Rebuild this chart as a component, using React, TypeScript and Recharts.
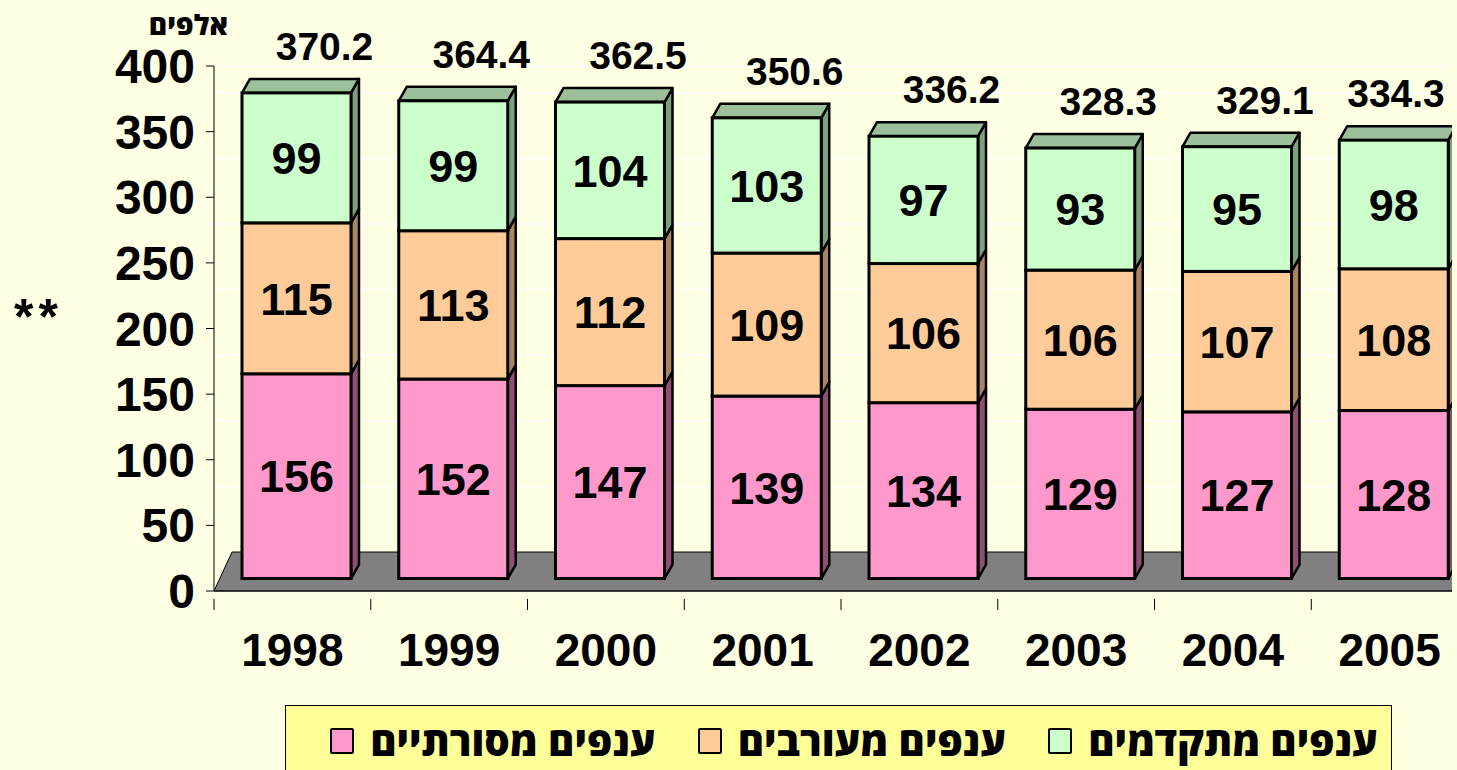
import React from "react";
import {
  BarChart,
  Bar,
  XAxis,
  YAxis,
  CartesianGrid,
  LabelList,
  ReferenceArea,
} from "recharts";

// values in thousands
const years = ["1998", "1999", "2000", "2001", "2002", "2003", "2004", "2005"];
const traditional = [156, 152, 147, 139, 134, 129, 127, 128];
const mixed = [115, 113, 112, 109, 106, 106, 107, 108];
const advanced = [99, 99, 104, 103, 97, 93, 95, 98];
const totals = [370.2, 364.4, 362.5, 350.6, 336.2, 328.3, 329.1, 334.3];
const yTicks = [0, 50, 100, 150, 200, 250, 300, 350, 400];
const seriesNames = ["ענפים מסורתיים", "ענפים מעורבים", "ענפים מתקדמים"];
const unitLabel = "אלפים";

const FONT = "'Liberation Sans', Arial, sans-serif";
const HEB_FONT = "'Open Sans', 'DejaVu Sans', sans-serif";
const BG = "#FFFFE3";
const PLOT_LEFT = 214;
const BAND = 156.7;
const CLIP_RIGHT = 1452;
const DX = 8;
const DY = -14;
const SHIFT = 4;

const colors = [
  { front: "#FF99CC", side: "#8E4F70", top: "#CC7AA3" },
  { front: "#FFCC99", side: "#A88462", top: "#D9AD82" },
  { front: "#CCFFCC", side: "#7DA07D", top: "#9BC09B" },
];

const data = years.map((year, i) => ({
  year,
  traditional: traditional[i],
  mixed: mixed[i],
  advanced: advanced[i],
  total: totals[i],
}));

const makeShape = (c: { front: string; side: string; top: string }, withTop: boolean) =>
  (p: any) => {
    const x = p.x + SHIFT;
    const y = p.y;
    const w = p.width;
    const h = p.height;
    return (
      <g>
        <polygon
          points={`${x + w},${y} ${x + w + DX},${y + DY} ${x + w + DX},${y + h + DY} ${x + w},${y + h}`}
          fill={c.side}
          stroke="#000"
          strokeWidth={2.5}
          strokeLinejoin="round"
        />
        {withTop && (
          <polygon
            points={`${x},${y} ${x + DX},${y + DY} ${x + w + DX},${y + DY} ${x + w},${y}`}
            fill={c.top}
            stroke="#000"
            strokeWidth={2.5}
            strokeLinejoin="round"
          />
        )}
        <rect x={x} y={y} width={w} height={h} fill={c.front} stroke="#000" strokeWidth={3} />
      </g>
    );
  };

const InnerLabel = (p: any) => (
  <text
    x={p.x + p.width / 2 + SHIFT}
    y={p.y + p.height / 2}
    dy="0.36em"
    textAnchor="middle"
    fontSize={45}
    fontWeight="bold"
    fontFamily={FONT}
    fill="#000"
  >
    {p.value}
  </text>
);

const TotalLabel = (p: any) => {
  // keep the last label inside the visible area
  const cx = Math.min(p.x + p.width / 2 + SHIFT + 28, CLIP_RIGHT - 56);
  return (
    <text
      x={cx}
      y={p.y - 47}
      dy="0.36em"
      textAnchor="middle"
      fontSize={39}
      fontWeight="bold"
      fontFamily={FONT}
      fill="#000"
    >
      {Number(p.value).toFixed(1)}
    </text>
  );
};

const YearTick = (p: any) => {
  const { x, y, payload } = p;
  return (
    <g>
      <line x1={x - BAND / 2} y1={y} x2={x - BAND / 2} y2={y + 11} stroke="#000" />
      <text
        x={x}
        y={y + 67}
        textAnchor="middle"
        fontSize={46}
        fontWeight="bold"
        fontFamily={FONT}
        fill="#000"
      >
        {payload.value}
      </text>
    </g>
  );
};

const Floor = (p: any) => {
  const { x, y, width, height } = p;
  const d = 18;
  return (
    <polygon
      points={`${x},${y + height} ${x + width},${y + height} ${x + width + d},${y} ${x + d},${y}`}
      fill="#808080"
      stroke="#000"
      strokeWidth={1}
    />
  );
};

function Legend3() {
  const order = [2, 1, 0];
  return (
    <div
      style={{
        position: "absolute",
        left: 285,
        top: 705,
        width: 1107,
        height: 80,
        background: "#FFFF99",
        border: "1.5px solid #000",
        boxSizing: "border-box",
        display: "flex",
        direction: "rtl",
        alignItems: "flex-start",
        paddingRight: 13,
        paddingTop: 12,
        gap: 42,
        fontFamily: HEB_FONT,
        fontWeight: 800,
        fontSize: 40,
        color: "#000",
      }}
    >
      {order.map((i) => (
        <div key={i} style={{ display: "flex", alignItems: "center", gap: 16, lineHeight: "46px" }}>
          <span>{seriesNames[i]}</span>
          <span
            style={{
              display: "inline-block",
              width: 24,
              height: 26,
              boxSizing: "border-box",
              background: colors[i].front,
              border: "2.5px solid #000",
              borderRadius: 2,
            }}
          />
        </div>
      ))}
    </div>
  );
}

export default function App() {
  return (
    <div
      style={{
        position: "absolute",
        left: 0,
        top: 0,
        width: 1457,
        height: 770,
        overflow: "hidden",
        background: BG,
      }}
    >
      <div style={{ position: "absolute", left: 0, top: 0, width: CLIP_RIGHT, height: 770, overflow: "hidden" }}>
        <BarChart
          width={PLOT_LEFT + Math.round(BAND * years.length)}
          height={700}
          data={data}
          margin={{ top: 66, right: 0, left: 0, bottom: 0 }}
          barSize={109}
          style={{ fontFamily: FONT }}
        >
          <CartesianGrid yAxisId="wall" vertical={false} stroke="#FFFFFF" strokeWidth={1.5} />
          <XAxis
            dataKey="year"
            height={109}
            axisLine={{ stroke: "#000" }}
            tickLine={false}
            tick={<YearTick />}
            interval={0}
          />
          <YAxis
            yAxisId="ticks"
            width={PLOT_LEFT}
            domain={[0, 400]}
            ticks={yTicks}
            allowDataOverflow
            axisLine={{ stroke: "#000" }}
            tickLine={{ stroke: "#000" }}
            tickSize={8}
            tickMargin={11}
            tick={{ fontSize: 48, fontWeight: "bold", fill: "#000", fontFamily: FONT }}
          />
          <YAxis yAxisId="bars" hide width={0} domain={[-9.5, 390.5]} allowDataOverflow />
          <YAxis
            yAxisId="wall"
            hide
            width={0}
            domain={[-29.7, 370.3]}
            ticks={[50, 100, 150, 200, 250, 300, 350]}
            allowDataOverflow
          />
          <ReferenceArea yAxisId="ticks" y1={0} y2={29.7} shape={<Floor />} ifOverflow="visible" />
          <Bar
            yAxisId="bars"
            dataKey="traditional"
            name={seriesNames[0]}
            stackId="a"
            fill={colors[0].front}
            shape={makeShape(colors[0], false)}
            isAnimationActive={false}
          >
            <LabelList dataKey="traditional" content={<InnerLabel />} />
          </Bar>
          <Bar
            yAxisId="bars"
            dataKey="mixed"
            name={seriesNames[1]}
            stackId="a"
            fill={colors[1].front}
            shape={makeShape(colors[1], false)}
            isAnimationActive={false}
          >
            <LabelList dataKey="mixed" content={<InnerLabel />} />
          </Bar>
          <Bar
            yAxisId="bars"
            dataKey="advanced"
            name={seriesNames[2]}
            stackId="a"
            fill={colors[2].front}
            shape={makeShape(colors[2], true)}
            isAnimationActive={false}
          >
            <LabelList dataKey="advanced" content={<InnerLabel />} />
            <LabelList dataKey="total" content={<TotalLabel />} />
          </Bar>
        </BarChart>
      </div>
      <svg
        width={1457}
        height={770}
        style={{ position: "absolute", left: 0, top: 0, pointerEvents: "none" }}
      >
        <text x={228} y={35} textAnchor="end" fontSize={28} fontWeight={800} fontFamily={HEB_FONT} fill="#000">
          {unitLabel}
        </text>
        <text x={14} y={334} fontSize={50} fontWeight="bold" letterSpacing={5} fontFamily={FONT} fill="#000">
          **
        </text>
      </svg>
      <Legend3 />
    </div>
  );
}
